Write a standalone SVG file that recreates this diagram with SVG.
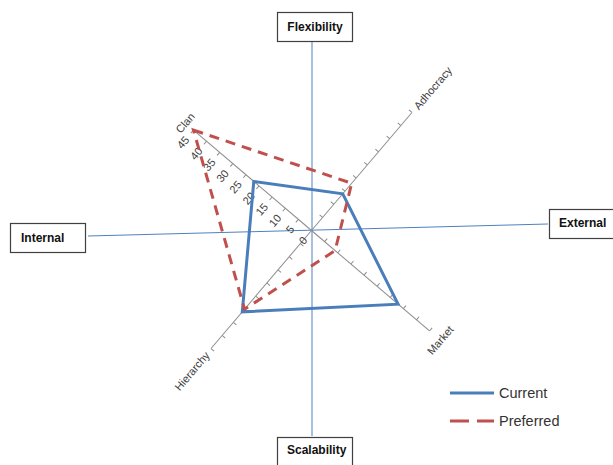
<svg xmlns="http://www.w3.org/2000/svg" width="613" height="465" viewBox="0 0 613 465">
<style>
.box{fill:#fff;stroke:#404040;stroke-width:1.2}
.lbl{font-family:"Liberation Sans",Arial,sans-serif;font-weight:bold;font-size:12px;fill:#111}
.axis{stroke:#4f81bd;stroke-width:1;fill:none}
.spoke{stroke:#8c8c8c;stroke-width:1;fill:none}
.tick{stroke:#8c8c8c;stroke-width:1}
.tl{font-family:"Liberation Sans",Arial,sans-serif;font-size:11px;fill:#404040}
.cur{fill:none;stroke:#4a7ebb;stroke-width:3;stroke-linejoin:miter}
.pref{fill:none;stroke:#c0504d;stroke-width:3;stroke-dasharray:10 7}
.leg{font-family:"Liberation Sans",Arial,sans-serif;font-size:14.5px;fill:#333}
</style>
<rect width="613" height="465" fill="#fff"/>
<g id="connectors">
<line class="axis" x1="312" y1="42" x2="312" y2="436"/>
<line class="axis" x1="88" y1="236" x2="548" y2="224"/>
</g>
<g id="flexibility"><rect class="box" x="277.5" y="12.5" width="75" height="29"/><text class="lbl" x="315" y="31" text-anchor="middle">Flexibility</text></g>
<g id="internal"><rect class="box" x="10.5" y="223.5" width="75" height="29"/><text class="lbl" x="21" y="242">Internal</text></g>
<g id="external"><rect class="box" x="549.5" y="209.5" width="70" height="29"/><text class="lbl" x="559" y="227">External</text></g>
<g id="scalability"><rect class="box" x="277.5" y="437.5" width="75" height="35"/><text class="lbl" x="287" y="454">Scalability</text></g>
<g id="radar" transform="translate(311.5 230.5) rotate(-49.6)">
<g class="spoke-lines">
<line class="spoke" x1="0" y1="0" x2="0" y2="-155"/>
<line class="spoke" x1="0" y1="0" x2="155" y2="0"/>
<line class="spoke" x1="0" y1="0" x2="0" y2="155"/>
<line class="spoke" x1="0" y1="0" x2="-155" y2="0"/>
</g>
<g class="ticks">
<path class="tick" d="M0,-17.2h-4M0,-34.4h-4M0,-51.7h-4M0,-68.9h-4M0,-86.1h-4M0,-103.3h-4M0,-120.6h-4M0,-137.8h-4M0,-155h-4"/>
<path class="tick" d="M17.2,0v-4M34.4,0v-4M51.7,0v-4M68.9,0v-4M86.1,0v-4M103.3,0v-4M120.6,0v-4M137.8,0v-4M155,0v-4"/>
<path class="tick" d="M0,17.2h4M0,34.4h4M0,51.7h4M0,68.9h4M0,86.1h4M0,103.3h4M0,120.6h4M0,137.8h4M0,155h4"/>
<path class="tick" d="M-17.2,0v4M-34.4,0v4M-51.7,0v4M-68.9,0v4M-86.1,0v4M-103.3,0v4M-120.6,0v4M-137.8,0v4M-155,0v4"/>
</g>
<g class="tl" text-anchor="end">
<text x="-10" y="4">0</text>
<text x="-10" y="-13.2">5</text>
<text x="-10" y="-30.4">10</text>
<text x="-10" y="-47.7">15</text>
<text x="-10" y="-64.9">20</text>
<text x="-10" y="-82.1">25</text>
<text x="-10" y="-99.3">30</text>
<text x="-10" y="-116.6">35</text>
<text x="-10" y="-133.8">40</text>
<text x="-10" y="-151">45</text>
</g>
<text class="tl" x="0" y="-162" text-anchor="middle">Clan</text>
<text class="tl" x="161" y="4">Adhocracy</text>
<text class="tl" x="0" y="173" text-anchor="middle">Market</text>
<text class="tl" x="-161" y="4" text-anchor="end">Hierarchy</text>
<polygon class="cur" points="0,-75.8 48.2,0 0,113.7 -106.8,0"/>
<polygon class="pref" points="0,-155 62,0 0,31 -103.3,0"/>
</g>
<g id="legend">
<line x1="450" y1="393" x2="494" y2="393" stroke="#4a7ebb" stroke-width="3"/>
<text class="leg" x="499" y="398">Current</text>
<line x1="450" y1="421" x2="494" y2="421" stroke="#c0504d" stroke-width="3" stroke-dasharray="19 8"/>
<text class="leg" x="499" y="426">Preferred</text>
</g>
</svg>
